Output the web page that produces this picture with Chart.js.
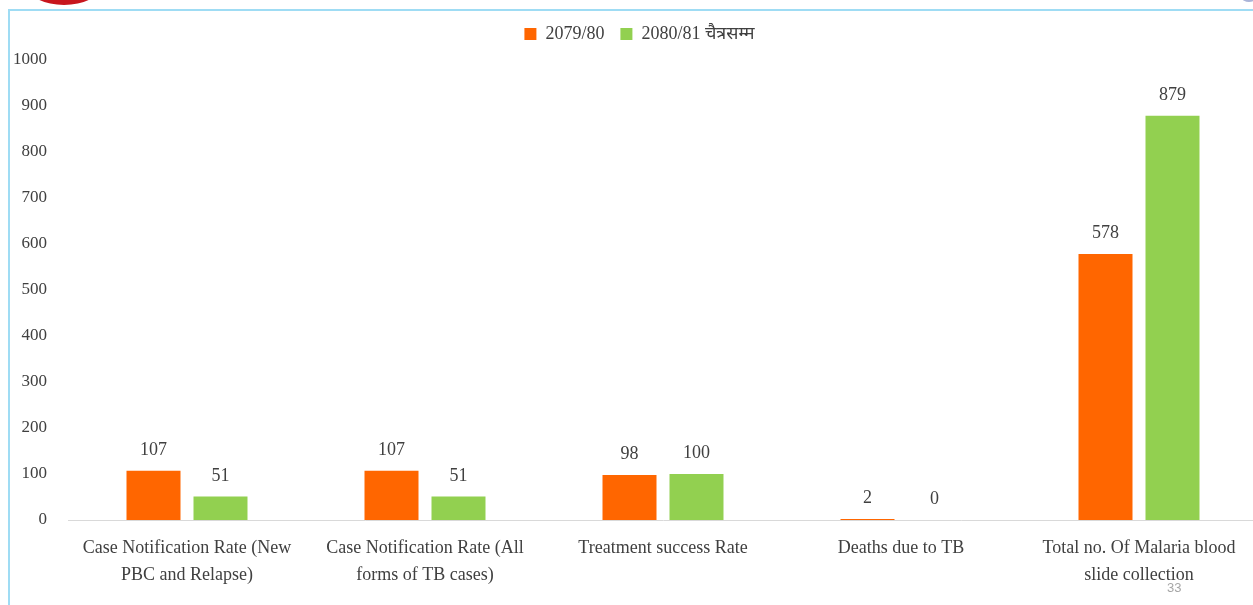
<!DOCTYPE html>
<html>
<head>
<meta charset="utf-8">
<script src="https://cdn.jsdelivr.net/npm/chart.js@4/dist/chart.umd.min.js"></script>
<style>
  html, body { margin: 0; padding: 0; background: #fff; overflow: hidden; width: 1253px; height: 605px; position: relative; }
  #frameTop { position: absolute; left: 9px; top: 9px; width: 1300px; height: 2px; background: #9fdcf4; }
  #frameLeft { position: absolute; left: 8px; top: 9px; width: 2px; height: 620px; background: #9fdcf4; }
  #logo { position: absolute; left: 28px; top: -32px; width: 72px; height: 37px; border-radius: 50%; background: #c8161d; }
  #corner { position: absolute; left: 1242px; top: -6px; width: 14px; height: 8px; border-radius: 50%; background: #aab4d8; }
  #pageNo { position: absolute; left: 1167px; top: 580px; font: 13px "Liberation Sans", sans-serif; color: #a6a6a6; }
  #c { position: absolute; left: 0; top: 0; }
</style>
</head>
<body>
<div id="logo"></div>
<div id="corner"></div>
<div id="frameTop"></div>
<div id="frameLeft"></div>
<canvas id="c" width="1260" height="605"></canvas>
<div id="pageNo">33</div>
<script>
const categories = [
  ["Case Notification Rate (New", "PBC and Relapse)"],
  ["Case Notification Rate (All", "forms of TB cases)"],
  "Treatment success Rate",
  "Deaths due to TB",
  ["Total no. Of Malaria blood", "slide collection"]
];
const seriesNames = ["2079/80", "2080/81 चैत्रसम्म"];
const values2079 = [107, 107, 98, 2, 578];
const values2080 = [51, 51, 100, 0, 879];
const yTicks = [0, 100, 200, 300, 400, 500, 600, 700, 800, 900, 1000];

const FONT = '"Liberation Serif", "Times New Roman", "Noto Sans", serif';
const TEXT = '#404040';

const valueLabels = {
  id: 'valueLabels',
  afterDatasetsDraw(chart) {
    const ctx = chart.ctx;
    ctx.save();
    ctx.font = '18px ' + FONT;
    ctx.fillStyle = TEXT;
    ctx.textAlign = 'center';
    ctx.textBaseline = 'middle';
    chart.data.datasets.forEach((ds, i) => {
      chart.getDatasetMeta(i).data.forEach((bar, j) => {
        ctx.fillText(String(ds.data[j]), bar.x, bar.y - 20.5);
      });
    });
    ctx.restore();
  }
};

const legendShift = {
  id: 'legendShift',
  afterLayout(chart) {
    const lg = chart.legend;
    if (!lg) return;
    lg.left += 8; lg.right += 8;
    lg.top -= 7; lg.bottom -= 7;
  }
};

new Chart(document.getElementById('c'), {
  type: 'bar',
  data: {
    labels: categories,
    datasets: [
      { label: seriesNames[0], data: values2079, backgroundColor: '#FF6600', borderWidth: 0 },
      { label: seriesNames[1], data: values2080, backgroundColor: '#92D050', borderWidth: 0 }
    ]
  },
  options: {
    responsive: false,
    animation: false,
    devicePixelRatio: 1,
    layout: { padding: { left: 5, right: 2, top: 16, bottom: 1 } },
    datasets: { bar: { categoryPercentage: 0.563, barPercentage: 0.806 } },
    plugins: {
      legend: {
        position: 'top',
        labels: {
          boxWidth: 12, boxHeight: 12, padding: 16,
          color: TEXT,
          font: { family: FONT, size: 18 }
        }
      },
      tooltip: { enabled: false }
    },
    scales: {
      x: {
        grid: { display: false, drawTicks: false },
        border: { display: true, color: '#d9d9d9', width: 1 },
        ticks: {
          color: TEXT, padding: 15, maxRotation: 0, autoSkip: false,
          font: { family: FONT, size: 18, lineHeight: 1.5 }
        }
      },
      y: {
        min: 0, max: 1000,
        afterFit(scale) { scale.width = 63; },
        afterBuildTicks(scale) { scale.ticks = yTicks.map(v => ({ value: v })); },
        grid: { display: false, drawTicks: false },
        border: { display: false },
        ticks: {
          color: TEXT, padding: 21,
          font: { family: FONT, size: 17 },
          callback: (v) => String(v)
        }
      }
    }
  },
  plugins: [valueLabels, legendShift]
});
</script>
</body>
</html>
